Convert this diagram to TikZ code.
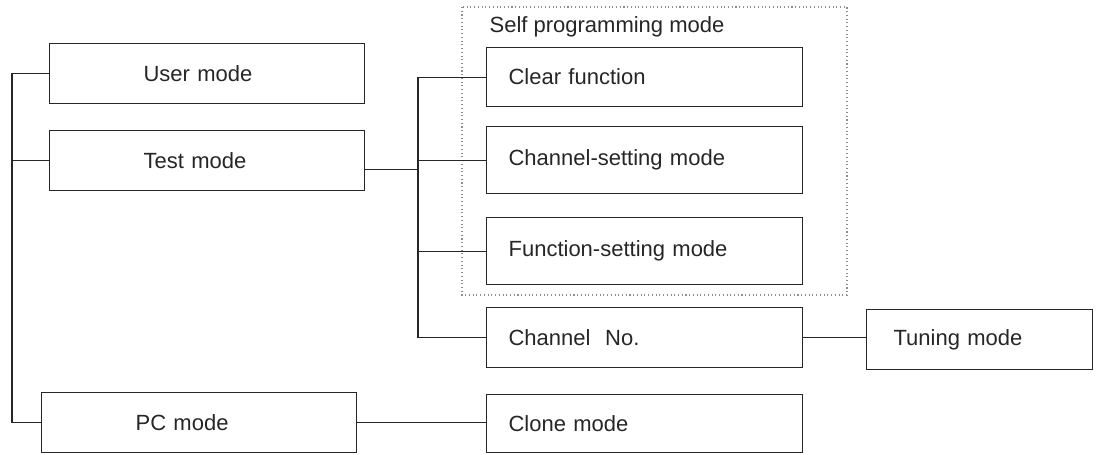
\documentclass[tikz,border=0pt]{standalone}
\usepackage{fontspec}
\setmainfont{Liberation Sans}
\begin{document}
\begin{tikzpicture}[x=0.75pt,y=-0.75pt,
  line width=0.9pt, draw=black!85,
  every node/.style={font=\fontsize{16.5}{19}\selectfont, text=black!85},
  lbox/.style={draw, line width=0.9pt, rectangle, anchor=north west, inner ysep=0pt,
     minimum width=236.25pt, minimum height=45pt, inner xsep=70.5pt, text width=95.25pt, align=left},
  rbox/.style={draw, line width=0.9pt, rectangle, anchor=north west, inner ysep=0pt,
     minimum width=237pt, inner xsep=16.5pt, text width=204pt, align=left},
  conn/.style={line width=0.9pt, draw=black!85},
  spbox/.style={draw=black!45, line width=0.8pt, dotted}
]
\useasboundingbox (0,0) rectangle (1096,454);
% self programming group
\draw[spbox] (462,7) rectangle (847,295);
\node[anchor=west, inner sep=0pt] (splabel) at (489,27) {Self programming mode};
% left column
\node[lbox] (user) at (49,43) {User mode};
\node[lbox] (test) at (49,130) {Test mode};
\node[lbox] (pc) at (41,392) {PC mode};
% right column
\node[rbox, minimum height=44.25pt] (clear) at (486,47) {Clear function};
\node[rbox, minimum height=50.25pt] (chset) at (486,126) {Channel-setting mode};
\node[rbox, minimum height=50.25pt] (fnset) at (486,217) {Function-setting mode};
\node[rbox, minimum height=45pt] (chno) at (486,307) {Channel\ \ No.};
\node[rbox, minimum height=43.5pt] (clone) at (486,394) {Clone mode};
\node[draw, line width=0.9pt, rectangle, anchor=north west, inner ysep=0pt,
  minimum width=169.5pt, minimum height=45pt, inner xsep=20.25pt, text width=129pt, align=left]
  (tuning) at (866,309) {Tuning mode};
% trunk coordinates
\coordinate (lt) at (12,0);
\coordinate (rt) at (418,0);
\coordinate (testout) at ([yshift=-6.75pt]test.east);
% connectors
\draw[conn] (user.west) -| (lt |- pc.west) -- (pc.west);
\draw[conn] (test.west) -- (lt |- test.west);
\draw[conn] (testout) -- (rt |- testout);
\draw[conn] (clear.west) -| (rt |- chno.west) -- (chno.west);
\draw[conn] (chset.west) -- (rt |- chset.west);
\draw[conn] (fnset.west) -- (rt |- fnset.west);
\draw[conn] (chno.east) -- (chno.east -| tuning.west);
\draw[conn] (pc.east) -- (pc.east -| clone.west);
\end{tikzpicture}
\end{document}
